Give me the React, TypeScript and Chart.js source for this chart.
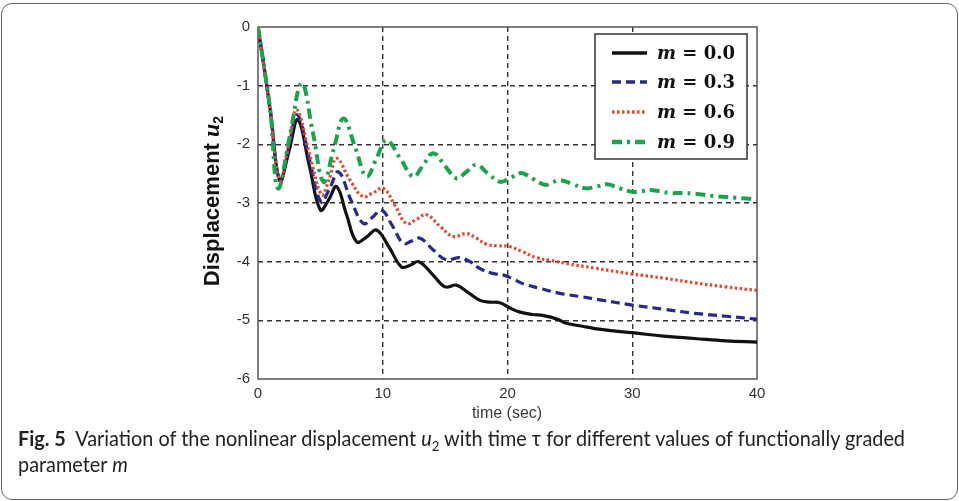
import React, { useEffect, useLayoutEffect, useRef } from "react";
import { Chart, registerables } from "chart.js";

Chart.register(...registerables);

// ---------------- data ----------------
const timeTicks = [0, 10, 20, 30, 40];
const dispTicks = [0, -1, -2, -3, -4, -5, -6];
const mLabels = ["0.0", "0.3", "0.6", "0.9"];

const tM00 = [0, 0.5, 1.0, 1.75, 2.5, 3.2, 4.1, 5.0, 5.65, 6.3, 7.1, 7.9, 8.7, 9.5, 10.5, 11.5, 12.2, 12.9, 14.0, 15.0, 15.9, 16.8, 17.8, 18.6, 19.4, 20.2, 21.0, 22.0, 22.9, 24.0, 24.7, 26.0, 27.0, 28.5, 30.0, 32.5, 35.0, 37.5, 40];
const uM00 = [0, -0.7, -1.45, -2.62, -2.1, -1.58, -2.35, -3.12, -2.95, -2.72, -3.2, -3.66, -3.58, -3.46, -3.75, -4.09, -4.06, -4.0, -4.22, -4.43, -4.4, -4.52, -4.66, -4.69, -4.7, -4.79, -4.86, -4.9, -4.92, -4.98, -5.05, -5.1, -5.14, -5.18, -5.21, -5.27, -5.31, -5.35, -5.37];

const tM03 = [0, 0.5, 1.0, 1.75, 2.45, 3.15, 4.1, 5.05, 5.75, 6.45, 7.45, 8.45, 9.2, 9.9, 10.8, 11.65, 12.3, 13.0, 14.05, 15.1, 16.1, 17.0, 17.8, 18.8, 19.7, 20.5, 21.3, 22.5, 24.2, 26.0, 27.4, 30.0, 32.5, 35.0, 37.5, 40];
const uM03 = [0, -0.7, -1.45, -2.62, -2.06, -1.5, -2.24, -2.98, -2.75, -2.47, -2.95, -3.35, -3.24, -3.12, -3.4, -3.69, -3.65, -3.6, -3.8, -3.97, -3.93, -4.0, -4.12, -4.2, -4.23, -4.3, -4.38, -4.45, -4.54, -4.6, -4.65, -4.74, -4.81, -4.88, -4.93, -4.98];

const tM06 = [0, 0.5, 1.0, 1.75, 2.45, 3.1, 4.1, 5.1, 5.7, 6.3, 7.35, 8.4, 9.2, 10.05, 11.0, 11.9, 12.7, 13.5, 14.6, 15.65, 16.7, 17.5, 18.3, 19.2, 20.1, 21.2, 22.3, 23.5, 24.7, 27.0, 30.0, 32.5, 35.0, 37.5, 40];
const uM06 = [0, -0.7, -1.45, -2.62, -2.0, -1.41, -2.14, -2.86, -2.6, -2.24, -2.6, -2.89, -2.83, -2.75, -3.05, -3.35, -3.28, -3.2, -3.4, -3.57, -3.52, -3.6, -3.7, -3.73, -3.74, -3.83, -3.93, -3.98, -4.03, -4.11, -4.21, -4.28, -4.36, -4.43, -4.49];

const tM09 = [0, 0.5, 1.0, 1.6, 2.55, 3.5, 4.4, 5.25, 6.05, 6.85, 7.8, 8.7, 9.5, 10.3, 11.4, 12.45, 13.25, 14.05, 15.0, 15.9, 16.7, 17.5, 18.45, 19.4, 20.25, 21.1, 22.05, 23.0, 23.6, 24.2, 25.25, 26.3, 27.15, 28.0, 29.0, 30.0, 30.7, 31.4, 32.2, 33.0, 34.0, 35.0, 36.5, 38.3, 40];
const uM09 = [0, -0.7, -1.45, -2.75, -1.86, -0.96, -1.8, -2.64, -2.1, -1.56, -2.06, -2.55, -2.24, -1.93, -2.24, -2.55, -2.35, -2.15, -2.37, -2.58, -2.47, -2.35, -2.5, -2.64, -2.57, -2.49, -2.59, -2.69, -2.65, -2.61, -2.68, -2.75, -2.72, -2.68, -2.75, -2.81, -2.8, -2.78, -2.8, -2.83, -2.83, -2.84, -2.88, -2.91, -2.94];

const seriesT = [tM00, tM03, tM06, tM09];
const seriesU = [uM00, uM03, uM06, uM09];

// ---------------- styles ----------------
const lineStyles = [
  { color: "#111111", dash: [] as number[], width: 3.2 },
  { color: "#272a8c", dash: [9, 5], width: 3.2 },
  { color: "#e4472f", dash: [2.5, 2.5], width: 3.2 },
  { color: "#1fa24f", dash: [10, 5, 3, 5], width: 4 },
];

const W = 959;
const CANVAS_H = 430;
const AREA = { left: 258, right: 757, top: 27, bottom: 379 };

const decorPlugin = {
  id: "decor",
  beforeDatasetsDraw(chart: any) {
    const { ctx, chartArea } = chart;
    ctx.save();
    ctx.strokeStyle = "#555555";
    ctx.lineWidth = 1.5;
    ctx.setLineDash([]);
    ctx.strokeRect(chartArea.left, chartArea.top, chartArea.right - chartArea.left, chartArea.bottom - chartArea.top);
    ctx.restore();
  },
  afterDraw(chart: any) {
    const { ctx } = chart;
    // legend box
    ctx.save();
    const bx = 595, by = 34, bw = 152, bh = 125;
    ctx.fillStyle = "#ffffff";
    ctx.fillRect(bx, by, bw, bh);
    ctx.strokeStyle = "#333333";
    ctx.lineWidth = 1.5;
    ctx.strokeRect(bx, by, bw, bh);
    const rows = [53, 82, 112, 142];
    chart.data.datasets.forEach((ds: any, i: number) => {
      const st = lineStyles[i];
      const y = rows[i];
      ctx.beginPath();
      ctx.strokeStyle = st.color;
      ctx.lineWidth = st.width + 0.5;
      ctx.setLineDash(st.dash);
      ctx.moveTo(612, y);
      ctx.lineTo(647, y);
      ctx.stroke();
      ctx.setLineDash([]);
      ctx.fillStyle = "#111111";
      ctx.textBaseline = "alphabetic";
      ctx.textAlign = "left";
      ctx.font = "italic bold 18px 'DejaVu Serif'";
      ctx.fillText("m", 657, y + 6);
      const mw = ctx.measureText("m").width;
      ctx.font = "bold 18px 'DejaVu Serif'";
      ctx.fillText(" = " + mLabels[i], 657 + mw, y + 6);
    });
    ctx.restore();

    // y-axis title
    ctx.save();
    ctx.translate(211, 201);
    ctx.rotate(-Math.PI / 2);
    ctx.fillStyle = "#111111";
    ctx.textBaseline = "alphabetic";
    ctx.textAlign = "left";
    const f1 = "bold 22px 'Liberation Sans', Arial, sans-serif";
    const f2 = "italic bold 24px 'Liberation Serif', serif";
    const f3 = "bold 14px 'Liberation Sans', Arial, sans-serif";
    ctx.font = f1;
    const w1 = ctx.measureText("Displacement ").width;
    ctx.font = f2;
    const w2 = ctx.measureText("u").width;
    ctx.font = f3;
    const w3 = ctx.measureText("2").width;
    let x0 = -(w1 + w2 + w3) / 2;
    const base = 8;
    ctx.font = f1;
    ctx.fillText("Displacement ", x0, base);
    x0 += w1;
    ctx.font = f2;
    ctx.fillText("u", x0, base);
    x0 += w2;
    ctx.font = f3;
    ctx.fillText("2", x0, base + 4);
    ctx.restore();

    // x-axis title
    ctx.save();
    ctx.fillStyle = "#3a3a3a";
    ctx.font = "16px 'Liberation Sans', Arial, sans-serif";
    ctx.textAlign = "center";
    ctx.textBaseline = "middle";
    ctx.fillText("time (sec)", 507, 414);
    ctx.restore();
  },
};

export default function App() {
  const canvasRef = useRef<HTMLCanvasElement | null>(null);
  const capRef = useRef<HTMLDivElement | null>(null);
  const line1Ref = useRef<HTMLSpanElement | null>(null);

  useLayoutEffect(() => {
    document.body.style.margin = "0";
    if (line1Ref.current && capRef.current) {
      const w = line1Ref.current.getBoundingClientRect().width;
      if (w > 0) capRef.current.style.transform = `scaleX(${887 / w})`;
    }
  }, []);

  useEffect(() => {
    if (!canvasRef.current) return;
    const gridColor = (c: any) => {
      const v = c.tick ? c.tick.value : null;
      return v === 0 || v === 40 || v === -6 ? "rgba(0,0,0,0)" : "#333333";
    };
    const chart = new Chart(canvasRef.current, {
      type: "line",
      data: {
        datasets: seriesT.map((ts, i) => ({
          label: "m = " + mLabels[i],
          data: ts.map((t, j) => ({ x: t, y: seriesU[i][j] })),
          borderColor: lineStyles[i].color,
          borderWidth: lineStyles[i].width,
          borderDash: lineStyles[i].dash,
          pointRadius: 0,
          fill: false,
          tension: 0.4,
          order: 4 - i,
        })),
      },
      options: {
        responsive: false,
        animation: false,
        layout: { padding: { left: 0, right: W - AREA.right, top: AREA.top, bottom: 0 } },
        plugins: { legend: { display: false }, tooltip: { enabled: false } },
        scales: {
          x: {
            type: "linear",
            min: 0,
            max: 40,
            afterBuildTicks: (s: any) => {
              s.ticks = timeTicks.map((v) => ({ value: v }));
            },
            afterFit: (s: any) => {
              s.height = CANVAS_H - AREA.bottom;
            },
            grid: { color: gridColor, lineWidth: 1.4, drawTicks: false },
            border: { display: false, dash: [5, 4] },
            ticks: {
              color: "#333333",
              font: { family: "'Liberation Sans', Arial, sans-serif", size: 15 },
              padding: 6,
              maxRotation: 0,
            },
          },
          y: {
            type: "linear",
            min: -6,
            max: 0,
            afterBuildTicks: (s: any) => {
              s.ticks = dispTicks.map((v) => ({ value: v }));
            },
            afterFit: (s: any) => {
              s.width = AREA.left;
            },
            grid: { color: gridColor, lineWidth: 1.4, drawTicks: false },
            border: { display: false, dash: [5, 4] },
            ticks: {
              color: "#333333",
              font: { family: "'Liberation Sans', Arial, sans-serif", size: 15 },
              padding: 8,
            },
          },
        },
      },
      plugins: [decorPlugin],
    } as any);
    return () => chart.destroy();
  }, []);

  return (
    <div style={{ position: "absolute", left: 0, top: 0, width: W, height: 501, background: "#fff", overflow: "hidden" }}>
      <div
        style={{
          position: "absolute",
          left: 1,
          top: 3,
          width: 957,
          height: 497,
          boxSizing: "border-box",
          border: "1.5px solid #666",
          borderRadius: 11,
        }}
      />
      <canvas
        ref={canvasRef}
        width={W}
        height={CANVAS_H}
        style={{ position: "absolute", left: 0, top: 0, width: W, height: CANVAS_H }}
      />
      <div
        ref={capRef}
        style={{
          position: "absolute",
          left: 18,
          top: 425,
          fontFamily: "Lato, 'Open Sans', sans-serif",
          fontSize: 21,
          lineHeight: "26px",
          color: "#222",
          whiteSpace: "nowrap",
          transformOrigin: "0 0",
        }}
      >
        <span ref={line1Ref} style={{ display: "inline-block" }}>
          <b>Fig. 5</b>&nbsp; Variation of the nonlinear displacement <i>u</i>
          <sub style={{ fontSize: 14, lineHeight: 0 }}>2</sub> with time τ for different values of functionally graded
        </span>
        <br />
        <span>
          parameter <i>m</i>
        </span>
      </div>
    </div>
  );
}
